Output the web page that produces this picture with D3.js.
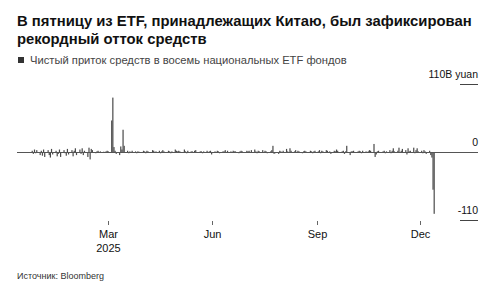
<!DOCTYPE html>
<html>
<head>
<meta charset="utf-8">
<script src="https://cdn.jsdelivr.net/npm/d3@7"></script>
<style>
  html, body { margin: 0; padding: 0; background: #fff; }
  svg { display: block; font-family: "Liberation Sans", Arial, sans-serif; }
</style>
</head>
<body>
<div id="chart"></div>
<script>
// daily net flows, billion yuan, one value per weekday from firstDay
const firstDay = "2024-12-23";
const flows = [
  // Dec 2024
  2, -3, 4, -2, 3, -5, 2,
  // Jan
  -6, 4, -8, 3, -5, -9, 5, -4, 2, -7, -3, 4, -8, 3, -2, -6, 5, -4, 3, -7, 2, 6, -5,
  // Feb
  4, -3, 6, -5, 2, -8, 7, -12, 5, 3, -2, 1, 2, -1, 1, 0.5, -1, 1, 2, 1,
  // Mar
  51, 88, 8, 2, -3, -5, 9, 4, 36, 10, 2, -2, 1, -1, 2, 1, -2, 1, 0.5, -1, 2,
  // Apr
  1, -2, 2, 1, -1, 3, 2, -1, 1, 2, -2, 1, 3, 1, -1, 2, 1, -2, 1, 4, 2, 1,
  // May
  2, 1, -1, 4, 1, -2, 2, 1, 1, -1, 2, 3, -1, 1, 1, -2, 1, 2, -1, 1, 2, -4,
  // Jun
  1, -1, 2, 1, -2, 1, 1, 3, -1, 2, 1, -1, 2, 1, 1, -2, 1, 2, 1, -1, 2,
  // Jul
  1, 2, -1, 3, 4, 1, -2, 2, 1, 3, -1, 2, 1, -2, 1, 3, 10, -3, -2, -3, 2, 1, -1,
  // Aug
  2, 5, 1, -1, 6, 2, 1, 3, -1, 2, 1, -2, 1, 2, 1, -1, 2, 1, -2, 1, 2,
  // Sep
  1, 3, -2, 2, 1, 3, 2, -1, 1, -3, 2, 1, 4, 2, -1, 1, 2, -3, 1, 10, -5, 1,
  // Oct
  1, 2, -1, 1, 2, 1, -2, 2, 1, -1, 1, 3, 2, 13, -8, -4, 1, 2, -1, 1, 2, -2, 1,
  // Nov
  3, -2, 2, 6, 1, 2, 7, -1, 2, 5, 3, -4, 6, 1, 2, 7, -2, 3, 6, 1,
  // Dec
  2, -2, 3, 1, -3, 2, -5, -9, -61, -100
];

const yTicks = [110, 0, -110];
const yTickLabels = ["110B yuan", "0", "-110"];
const xTickDates = ["2025-03-01", "2025-06-01", "2025-09-01", "2025-12-01"];
const xTickLabels = [["Mar", "2025"], ["Jun"], ["Sep"], ["Dec"]];

const width = 503, height = 292;
const parse = d3.utcParse("%Y-%m-%d");

// weekdays from the first day, paired with the flows
const days = [];
let day = parse(firstDay);
while (days.length < flows.length) {
    const wd = day.getUTCDay();
    if (wd !== 0 && wd !== 6) days.push(day);
    day = d3.utcDay.offset(day, 1);
}
const data = flows.map((v, i) => ({ date: days[i], value: v }));

const svg = d3.select("#chart").append("svg")
    .attr("width", width)
    .attr("height", height);

// title, sized so the long line ends near x=472
const title = svg.append("text")
    .attr("x", 17).attr("y", 26)
    .attr("font-size", 16).attr("font-weight", "bold").attr("fill", "#111");
title.selectAll("tspan")
    .data(["В пятницу из ETF, принадлежащих Китаю, был зафиксирован", "рекордный отток средств"])
    .enter().append("tspan")
    .attr("x", 17)
    .attr("dy", (d, i) => i ? 18 : 0)
    .text(d => d);
const tw = title.select("tspan").node().getComputedTextLength();
title.attr("font-size", Math.min(16, 16 * 455 / tw));

// legend
svg.append("rect")
    .attr("x", 18).attr("y", 57).attr("width", 6).attr("height", 6)
    .attr("fill", "#333");
svg.append("text")
    .attr("x", 30).attr("y", 63.5)
    .attr("font-size", 11.2).attr("fill", "#444")
    .text("Чистый приток средств в восемь национальных ETF фондов");

const x = d3.scaleUtc()
    .domain([parse("2024-12-11"), parse("2026-01-21")])
    .range([17, 478]);

const y = d3.scaleLinear()
    .domain([-110, 110])
    .range([220, 84]);

// y ticks on the right: short line with label above it
const yg = svg.append("g");
yTicks.forEach((t, i) => {
    if (t !== 0) {
        yg.append("line")
            .attr("x1", 460).attr("x2", 478)
            .attr("y1", y(t) + 0.5).attr("y2", y(t) + 0.5)
            .attr("stroke", "#444").attr("stroke-width", 1);
    }
    yg.append("text")
        .attr("x", 478).attr("y", y(t) - 6)
        .attr("text-anchor", "end")
        .attr("font-size", 10.5).attr("fill", "#111")
        .text(yTickLabels[i]);
});

// bars
const barW = x(parse("2025-01-02")) - x(parse("2025-01-01"));
svg.append("g")
    .selectAll("rect")
    .data(data)
    .enter().append("rect")
    .attr("x", d => x(d.date) + 1)
    .attr("width", Math.max(1.2, barW))
    .attr("y", d => y(Math.max(0, d.value)))
    .attr("height", d => Math.abs(y(d.value) - y(0)))
    .attr("fill", "#4a4a4a");

// zero line
svg.append("line")
    .attr("x1", 17).attr("x2", 478)
    .attr("y1", y(0) + 0.5).attr("y2", y(0) + 0.5)
    .attr("stroke", "#555").attr("stroke-width", 1);

// x axis
const xg = svg.append("g");
xTickDates.forEach((s, i) => {
    const px = Math.round(x(parse(s))) + 0.5;
    xg.append("line")
        .attr("x1", px).attr("x2", px)
        .attr("y1", 221).attr("y2", 225)
        .attr("stroke", "#666");
    xTickLabels[i].forEach((lab, j) => {
        xg.append("text")
            .attr("x", px).attr("y", 238 + j * 14)
            .attr("text-anchor", "middle")
            .attr("font-size", 11).attr("fill", "#111")
            .text(lab);
    });
});

// footer
svg.append("text")
    .attr("x", 17).attr("y", 279)
    .attr("font-size", 9).attr("fill", "#333")
    .text("Источник: Bloomberg");
</script>
</body>
</html>
